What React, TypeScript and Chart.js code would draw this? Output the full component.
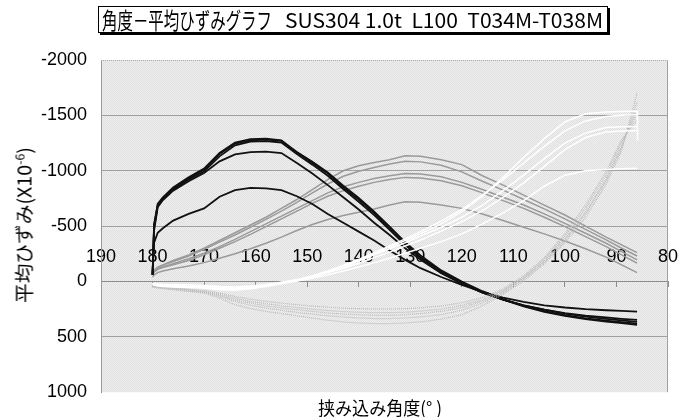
import React, { useEffect, useRef } from 'react';
import { Chart, registerables } from 'chart.js';

Chart.register(...registerables);

// ---- text ----
const TITLE_JP = '角度－平均ひずみグラフ';
const TITLE_EN = 'SUS304 1.0t  L100  T034M-T038M';
const Y_TITLE_MAIN = '平均ひずみ(X10';
const Y_TITLE_SUP = '-6';
const Y_TITLE_END = ')';
const X_TITLE = '挟み込み角度(° )';

// ---- axes ----
const X_MIN = 80;
const X_MAX = 190;
const X_STEP = 10;
const Y_MIN = -2000;
const Y_MAX = 1000;
const Y_STEP = 500;

// ---- data (angle in degrees, mean strain x10^-6) ----
const angles = [180, 179.7, 179, 178, 176, 173, 170, 167, 164, 161, 158, 155, 152, 149, 146, 143, 140, 137, 134, 131, 128, 124, 120, 116, 112, 108, 104, 100, 96, 92, 89, 86];

const black1 = [-60, -500, -700, -760, -850, -940, -1020, -1160, -1255, -1285, -1290, -1275, -1165, -1070, -975, -850, -740, -620, -480, -340, -220, -90, 10, 95, 165, 225, 275, 310, 340, 362, 377, 392];
const black2 = [-60, -520, -690, -750, -840, -930, -1010, -1150, -1245, -1275, -1282, -1270, -1170, -1080, -985, -865, -755, -630, -495, -355, -235, -100, 0, 88, 160, 220, 268, 305, 333, 353, 368, 380];
const black3 = [-60, -490, -680, -740, -830, -920, -995, -1130, -1230, -1262, -1268, -1255, -1150, -1055, -955, -835, -720, -600, -465, -330, -210, -80, 15, 100, 165, 215, 255, 285, 308, 325, 337, 347];
const black4 = [-60, -460, -670, -735, -820, -905, -980, -1085, -1148, -1168, -1172, -1160, -1070, -975, -870, -760, -650, -530, -420, -300, -195, -75, 20, 100, 165, 215, 255, 290, 318, 338, 352, 365];
const black5 = [-60, -350, -440, -480, -550, -610, -660, -765, -825, -845, -840, -825, -770, -700, -610, -530, -450, -370, -280, -195, -120, -40, 30, 95, 145, 185, 215, 235, 250, 260, 266, 272];

const gray1 = [-60, -100, -130, -150, -190, -240, -300, -370, -440, -510, -580, -660, -740, -830, -920, -1000, -1045, -1075, -1100, -1135, -1130, -1100, -1055, -955, -870, -780, -690, -600, -500, -400, -330, -260];
const gray2 = [-60, -95, -125, -145, -180, -230, -290, -355, -420, -490, -560, -635, -715, -800, -880, -950, -995, -1030, -1060, -1085, -1080, -1050, -990, -905, -825, -740, -655, -565, -470, -375, -300, -230];
const gray3 = [-60, -90, -115, -130, -160, -205, -255, -315, -380, -450, -520, -590, -660, -730, -800, -855, -895, -930, -955, -975, -970, -945, -895, -830, -760, -690, -610, -525, -435, -345, -270, -195];
const gray4 = [-60, -85, -110, -125, -150, -190, -240, -300, -360, -425, -495, -565, -635, -705, -770, -820, -860, -895, -920, -940, -935, -910, -865, -800, -730, -660, -580, -495, -405, -315, -240, -165];
const gray5 = [-40, -60, -80, -95, -115, -140, -170, -210, -250, -295, -345, -400, -460, -515, -560, -595, -625, -655, -690, -720, -715, -690, -660, -610, -550, -490, -430, -365, -295, -220, -150, -80];

const white1 = [30, 35, 40, 45, 50, 55, 60, 75, 80, 65, 45, 20, -5, -45, -90, -140, -190, -250, -310, -370, -430, -520, -630, -770, -940, -1120, -1290, -1440, -1515, -1530, -1535, -1540];
const white2 = [25, 30, 35, 40, 45, 50, 55, 68, 72, 60, 40, 15, -10, -50, -95, -145, -200, -260, -320, -385, -450, -545, -650, -780, -920, -1070, -1220, -1360, -1450, -1490, -1500, -1505];
const white3 = [20, 25, 30, 35, 40, 45, 50, 62, 66, 55, 35, 10, -15, -50, -90, -135, -185, -240, -295, -350, -410, -490, -580, -690, -820, -960, -1110, -1250, -1340, -1390, -1398, -1400];
const white4 = [20, 25, 28, 32, 36, 40, 45, 55, 60, 50, 30, 8, -15, -45, -80, -120, -165, -215, -265, -320, -375, -455, -540, -640, -760, -890, -1040, -1190, -1300, -1350, -1358, -1362];
const white5 = [15, 20, 22, 25, 28, 32, 36, 45, 50, 42, 28, 10, -5, -30, -60, -95, -130, -170, -210, -255, -300, -360, -430, -520, -620, -730, -860, -960, -1000, -1012, -1018, -1022];
// final unloading step of white1 at the last angle
const white1TailAngle = 85.9;
const white1TailValue = -1270;

const light1 = [50, 55, 60, 65, 75, 90, 105, 150, 210, 245, 270, 290, 310, 330, 350, 365, 375, 380, 380, 375, 365, 340, 300, 220, 115, -5, -160, -350, -580, -880, -1180, -1700];
const light2 = [45, 50, 55, 60, 70, 85, 100, 135, 180, 215, 240, 260, 280, 295, 310, 320, 330, 335, 335, 330, 320, 300, 260, 195, 100, -20, -175, -370, -610, -910, -1210, -1620];
const light3 = [45, 48, 52, 56, 65, 80, 95, 125, 165, 195, 220, 240, 255, 270, 285, 295, 300, 305, 305, 300, 290, 270, 235, 178, 90, -30, -185, -385, -625, -925, -1225, -1560];
const light4 = [40, 45, 48, 52, 60, 75, 90, 115, 150, 180, 200, 220, 235, 250, 262, 272, 278, 282, 282, 278, 268, 250, 215, 165, 80, -40, -200, -410, -660, -960, -1260, -1510];
const light5 = [40, 42, 45, 48, 55, 68, 82, 105, 135, 160, 180, 195, 210, 222, 232, 240, 246, 250, 250, 246, 238, 222, 192, 145, 68, -50, -215, -430, -690, -990, -1280, -1460];

const GROUPS = [
  { series: [white1, white2, white3, white4, white5], color: '#ffffff', width: 1.5, dash: [] as number[], order: 0 },
  { series: [light1, light2, light3, light4, light5], color: '#b9b9b9', width: 1.2, dash: [1, 1], order: 1 },
  { series: [black1, black2, black3, black4, black5], color: '#111111', width: 1.8, dash: [] as number[], order: 2 },
  { series: [gray1, gray2, gray3, gray4, gray5], color: '#9a9a9a', width: 1.5, dash: [] as number[], order: 3 },
];

const TICK_FONT = { family: '"Liberation Sans", Arial, sans-serif', size: 18 };
const JP_FAMILY = '"Noto Sans CJK JP", "Noto Sans CJK SC", sans-serif';

function measure(text: string, font: string): number {
  const c = document.createElement('canvas').getContext('2d');
  if (!c) return 100;
  c.font = font;
  return c.measureText(text).width;
}

function makePattern(ctx: CanvasRenderingContext2D): CanvasPattern | string {
  const p = document.createElement('canvas');
  p.width = 2;
  p.height = 2;
  const pc = p.getContext('2d');
  if (!pc) return '#e8e8e8';
  pc.fillStyle = '#f0f0f0';
  pc.fillRect(0, 0, 2, 2);
  pc.fillStyle = '#dfdfdf';
  pc.fillRect(0, 0, 1, 1);
  pc.fillRect(1, 1, 1, 1);
  return ctx.createPattern(p, 'repeat') || '#e8e8e8';
}

const plotFrame = {
  id: 'plotFrame',
  beforeDraw(chart: any) {
    const { ctx, chartArea: a } = chart;
    ctx.save();
    ctx.fillStyle = makePattern(ctx);
    ctx.fillRect(a.left, a.top, a.right - a.left, a.bottom - a.top);
    ctx.restore();
  },
  beforeDatasetsDraw(chart: any) {
    const { ctx, chartArea: a } = chart;
    ctx.save();
    ctx.lineWidth = 1;
    ctx.strokeStyle = '#a0a0a0';
    ctx.beginPath();
    ctx.moveTo(Math.round(a.right) - 0.5, a.top);
    ctx.lineTo(Math.round(a.right) - 0.5, a.bottom);
    ctx.stroke();
    ctx.setLineDash([1, 1]);
    ctx.strokeStyle = '#b0b0b0';
    ctx.beginPath();
    ctx.moveTo(a.left, Math.round(a.top) + 0.5);
    ctx.lineTo(a.right, Math.round(a.top) + 0.5);
    ctx.stroke();
    ctx.restore();
  },
};

export default function App() {
  const canvasRef = useRef<HTMLCanvasElement | null>(null);

  useEffect(() => {
    const canvas = canvasRef.current;
    if (!canvas) return;
    const datasets: any[] = [];
    GROUPS.forEach((g) => {
      g.series.forEach((vals) => {
        const pts = angles.map((a, i) => ({ x: a, y: vals[i] }));
        if (vals === white1) pts.push({ x: white1TailAngle, y: white1TailValue });
        datasets.push({
          data: pts,
          borderColor: g.color,
          backgroundColor: g.color,
          borderWidth: g.width,
          borderDash: g.dash,
          pointRadius: 0,
          tension: 0,
          fill: false,
          order: g.order,
        });
      });
    });

    const chart = new Chart(canvas, {
      type: 'line',
      data: { datasets },
      options: {
        animation: false,
        responsive: false,
        devicePixelRatio: 1,
        parsing: false as any,
        layout: { padding: { left: 0, top: 60, right: 27, bottom: 24 } },
        plugins: { legend: { display: false }, tooltip: { enabled: false }, title: { display: false } },
        scales: {
          x: {
            type: 'linear',
            reverse: true,
            min: X_MIN,
            max: X_MAX,
            position: { y: 0 } as any,
            afterFit: (s: any) => { s.height = 0; },
            ticks: {
              stepSize: X_STEP,
              autoSkip: false,
              maxRotation: 0,
              padding: -40,
              color: '#000',
              font: TICK_FONT,
              callback: (v: any) => String(v),
            },
            grid: { drawOnChartArea: false, drawTicks: true, tickLength: 5, color: '#8c8c8c', lineWidth: 1 },
            border: { display: true, color: '#8c8c8c', width: 1 },
          },
          y: {
            type: 'linear',
            reverse: true,
            min: Y_MIN,
            max: Y_MAX,
            afterFit: (s: any) => { s.width = 101; },
            ticks: {
              stepSize: Y_STEP,
              padding: 14,
              color: '#000',
              font: TICK_FONT,
              callback: (v: any) => String(v),
            },
            grid: {
              drawTicks: false,
              color: (ctx: any) => {
                const v = ctx.tick ? ctx.tick.value : null;
                return v === Y_MIN || v === Y_MAX ? 'rgba(0,0,0,0)' : '#a0a0a0';
              },
              lineWidth: 1,
            },
            border: { display: true, color: '#9a9a9a', width: 1 },
          },
        },
      } as any,
      plugins: [plotFrame],
    });
    return () => chart.destroy();
  }, []);

  const jpFont = `23px ${JP_FAMILY}`;
  const enFont = `20px ${JP_FAMILY}`;
  const kJp = 170 / measure(TITLE_JP, jpFont);
  const kEn = 318 / measure(TITLE_EN, enFont);

  const yFont = `19px ${JP_FAMILY}`;
  const ySupFont = `12px ${JP_FAMILY}`;
  const yW = measure(Y_TITLE_MAIN, yFont) + measure(Y_TITLE_SUP, ySupFont) + measure(Y_TITLE_END, yFont);
  const kY = 156 / yW;

  const xFont = `18px ${JP_FAMILY}`;
  const kX = 124 / measure(X_TITLE, xFont);

  return (
    <div style={{ position: 'fixed', left: 0, top: 0, width: 695, height: 417, background: '#fff', overflow: 'hidden' }}>
      <canvas ref={canvasRef} width={695} height={417} style={{ position: 'absolute', left: 0, top: 0, width: 695, height: 417 }} />
      <div
        style={{
          position: 'absolute', left: 98, top: 6, width: 510, height: 27, boxSizing: 'border-box',
          border: '1px solid #000', boxShadow: '2px 2px 0 #000', background: '#fff',
        }}
      >
        <span style={{ position: 'absolute', left: 2.7, top: 0, font: jpFont, lineHeight: '25px', whiteSpace: 'pre', transform: `scaleX(${kJp})`, transformOrigin: '0 50%', color: '#000' }}>{TITLE_JP}</span>
        <span style={{ position: 'absolute', left: 186, top: 0, font: enFont, lineHeight: '25px', whiteSpace: 'pre', transform: `scaleX(${kEn})`, transformOrigin: '0 50%', color: '#000' }}>{TITLE_EN}</span>
      </div>
      <div
        style={{
          position: 'absolute', left: 23.5, top: 303, transformOrigin: '0 0',
          transform: `rotate(-90deg) translateY(-50%) scaleX(${kY})`,
          font: yFont, lineHeight: '20px', whiteSpace: 'nowrap', color: '#000',
        }}
      >
        {Y_TITLE_MAIN}
        <span style={{ font: ySupFont, position: 'relative', top: -7 }}>{Y_TITLE_SUP}</span>
        {Y_TITLE_END}
      </div>
      <div
        style={{
          position: 'absolute', left: 380, top: 396.5, transform: `translateX(-50%) scaleX(${kX})`,
          font: xFont, lineHeight: '20px', whiteSpace: 'pre', color: '#000',
        }}
      >
        {X_TITLE}
      </div>
    </div>
  );
}
